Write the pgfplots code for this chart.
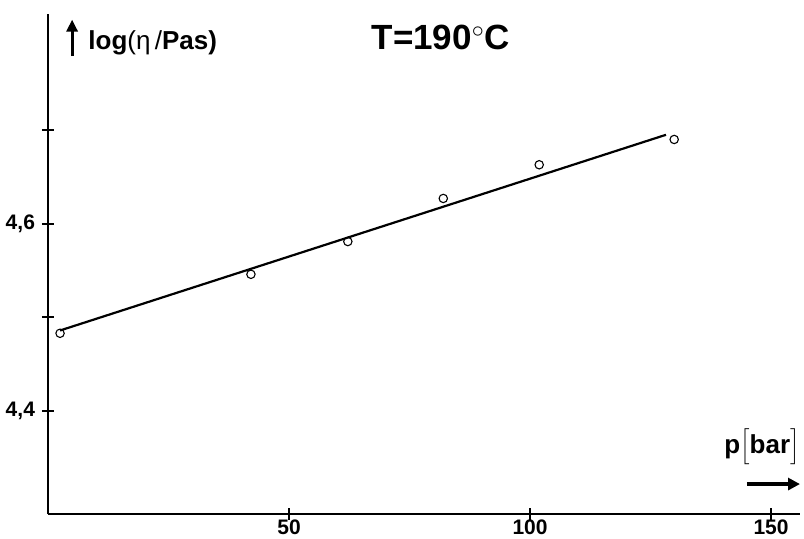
\documentclass[border=0pt]{standalone}
\usepackage{fontspec}
\setmainfont{Liberation Sans}
\usepackage{pgfplots}
\pgfplotsset{compat=1.18}
\usetikzlibrary{arrows.meta}

\begin{document}
\begin{tikzpicture}
  \useasboundingbox (-24pt,-12pt) rectangle (378pt,257pt);
  \begin{axis}[
    at={(0,0)},anchor=south west,
    width=376pt,height=250pt,scale only axis,
    axis lines=left,
    axis line style={line width=1.1pt,-},
    xmin=0,xmax=156,ymin=4.29,ymax=4.824,
    xtick={50,100,150},
    ytick={4.4,4.5,4.6,4.7},
    yticklabels={{4,4},{},{4,6},{}},
    tick align=center,major tick length=6pt,
    tick style={line width=1pt,black},
    /pgf/number format/assume math mode=true,
    ticklabel style={font=\bfseries\fontsize{10.5}{12}\selectfont},
    xticklabel style={yshift=3.5pt},
    clip=false,
  ]
    % fitted line
    \addplot[line width=1.1pt,black] coordinates {(2.5,4.486)(128.2,4.695)};
    % measurements
    \addplot[only marks,mark=o,mark size=2.1pt,mark options={line width=0.55pt,fill=white}]
      coordinates {(2.5,4.483)(42.1,4.546)(62.2,4.581)(82.0,4.627)(101.9,4.663)(129.9,4.690)};
    % labels
    \node[anchor=base west,inner sep=0pt,font=\fontsize{13}{15}\selectfont]
      at (axis cs:8.3,4.786) {\textbf{log}(η\,/\textbf{Pas)}};
    \draw[line width=1.6pt,-{Triangle[length=6pt,width=5.5pt]}]
      (axis cs:5,4.779) -- (axis cs:5,4.818);
    \node[anchor=base,inner sep=0pt,font=\bfseries\fontsize{17.5}{20}\selectfont]
      at (axis cs:81.5,4.786) {T=190$^{\circ}$C};
    \node[anchor=base east,inner sep=0pt,font=\bfseries\fontsize{13}{15}\selectfont]
      at (axis cs:156,4.355) {p$\Big[$bar$\Big]$};
    \draw[line width=2pt,-{Triangle[length=6pt,width=6pt]}]
      (axis cs:145,4.322) -- (axis cs:156,4.322);
  \end{axis}
\end{tikzpicture}
\end{document}
